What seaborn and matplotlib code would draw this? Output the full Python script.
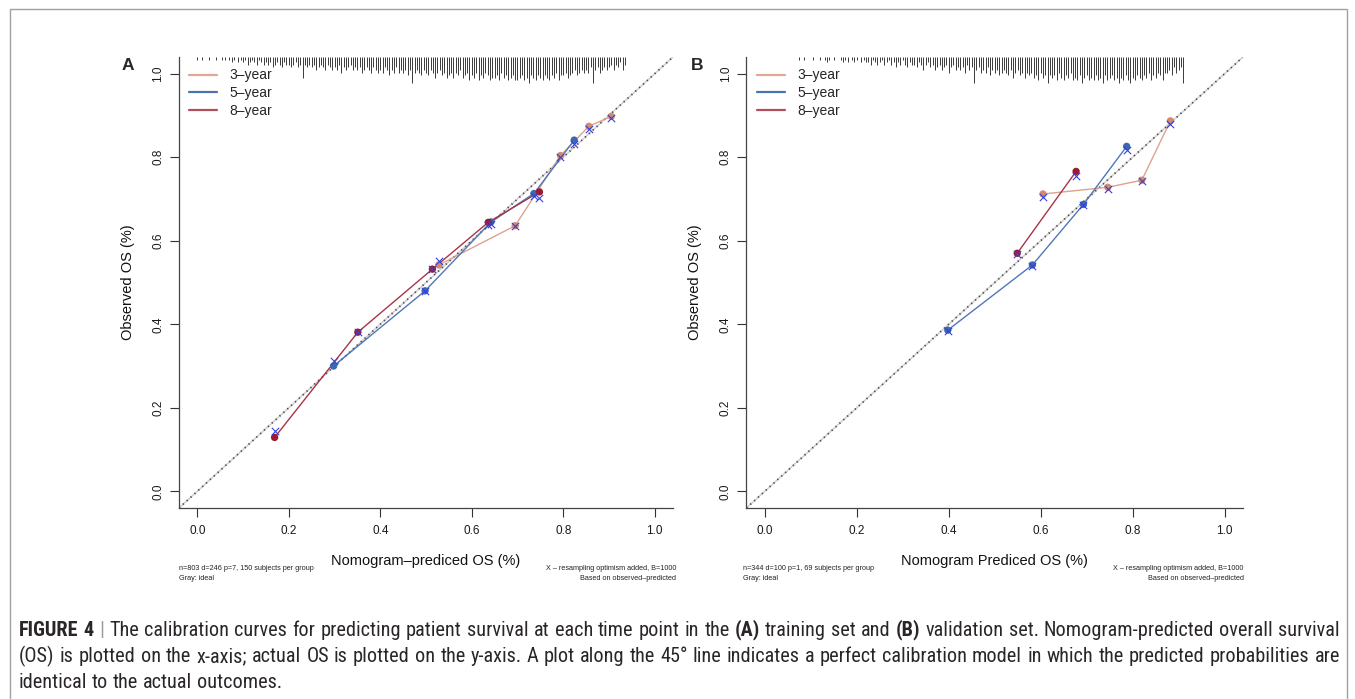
import numpy as np
import pandas as pd
import matplotlib
matplotlib.use("Agg")
import matplotlib.pyplot as plt
import seaborn as sns
from matplotlib.lines import Line2D
from matplotlib.patches import Rectangle
from matplotlib import font_manager
from matplotlib.font_manager import FontProperties

# ---------------- data ----------------
groups = ["3\u2013year", "5\u2013year", "8\u2013year"]

# Panel A (training set)
a3_pred = [0.528, 0.695, 0.794, 0.856, 0.905]
a3_obs = [0.542, 0.636, 0.804, 0.874, 0.898]
a3_cor = [0.551, 0.636, 0.800, 0.868, 0.894]
a5_pred = [0.298, 0.498, 0.642, 0.736, 0.824]
a5_obs = [0.300, 0.480, 0.645, 0.713, 0.841]
a5_cor = [0.311, 0.480, 0.640, 0.708, 0.831]
a8_pred = [0.169, 0.351, 0.514, 0.636, 0.748]
a8_obs = [0.129, 0.381, 0.532, 0.644, 0.717]
a8_cor = [0.145, 0.381, 0.532, 0.637, 0.703]

# Panel B (validation set)
b3_pred = [0.605, 0.746, 0.820, 0.882]
b3_obs = [0.712, 0.728, 0.745, 0.887]
b3_cor = [0.704, 0.724, 0.742, 0.880]
b5_pred = [0.398, 0.582, 0.693, 0.787]
b5_obs = [0.386, 0.542, 0.687, 0.826]
b5_cor = [0.384, 0.540, 0.686, 0.818]
b8_pred = [0.549, 0.677]
b8_obs = [0.570, 0.766]
b8_cor = [0.568, 0.755]

# spike histogram of predicted values along the top (relative heights 0-10)
rugA_start, rugA_step = 0.0, 0.005
rugA_h = [1, 0, 1, 0, 0, 1, 0, 0, 1, 0,
          0, 1, 1, 0, 1, 2, 1, 0, 2, 1,
          2, 1, 3, 2, 1, 2, 3, 1, 2, 3,
          2, 3, 2, 4, 3, 2, 3, 4, 2, 3,
          3, 4, 3, 2, 4, 3, 8, 3, 4, 3,
          4, 3, 5, 4, 3, 4, 5, 3, 4, 5,
          4, 5, 3, 6, 4, 5, 4, 3, 5, 4,
          5, 4, 6, 5, 4, 5, 6, 4, 5, 6,
          5, 6, 4, 5, 7, 5, 6, 4, 6, 5,
          6, 5, 7, 5, 10, 6, 5, 6, 7, 5,
          6, 7, 5, 6, 8, 6, 5, 7, 6, 8,
          7, 6, 8, 6, 7, 5, 8, 7, 6, 9,
          7, 8, 6, 9, 7, 8, 6, 7, 9, 8,
          8, 7, 9, 6, 8, 7, 9, 8, 7, 9,
          9, 8, 7, 9, 8, 10, 7, 8, 9, 7,
          8, 9, 7, 8, 9, 7, 8, 6, 9, 7,
          7, 6, 8, 7, 6, 5, 7, 6, 5, 6,
          5, 6, 4, 10, 5, 4, 6, 5, 4, 5,
          4, 3, 5, 3, 4, 2, 5, 3]
rugB_start, rugB_step = 0.075, 0.005
rugB_h = [1, 0, 1, 0, 0, 0, 1, 0, 0, 1,
          0, 1, 2, 1, 0, 1, 0, 0, 1, 2,
          1, 2, 0, 1, 2, 1, 0, 2, 1, 2,
          2, 3, 1, 2, 3, 2, 1, 3, 2, 1,
          3, 2, 4, 2, 3, 1, 3, 4, 2, 3,
          3, 4, 2, 3, 5, 3, 2, 4, 3, 5,
          4, 3, 5, 4, 3, 6, 4, 3, 5, 4,
          5, 4, 6, 3, 5, 4, 10, 5, 4, 6,
          5, 6, 4, 7, 5, 6, 5, 7, 6, 5,
          6, 7, 5, 8, 6, 5, 7, 6, 8, 6,
          7, 6, 8, 7, 9, 6, 8, 7, 10, 7,
          8, 7, 9, 6, 8, 9, 7, 8, 6, 9,
          8, 9, 7, 10, 8, 7, 9, 8, 9, 7,
          9, 8, 10, 7, 9, 8, 7, 9, 8, 10,
          8, 9, 7, 9, 10, 8, 9, 7, 8, 9,
          7, 8, 6, 9, 7, 8, 6, 7, 9, 6,
          6, 5, 7, 4, 6, 5, 4, 10]

tick_vals = [0.0, 0.2, 0.4, 0.6, 0.8, 1.0]
tick_labels = ["0.0", "0.2", "0.4", "0.6", "0.8", "1.0"]

noteA_left = ["n=803 d=246 p=7, 150 subjects per group", "Gray: ideal"]
noteB_left = ["n=344 d=100 p=1, 69 subjects per group", "Gray: ideal"]
note_right = ["X \u2013 resampling optimism added, B=1000", "Based on observed\u2013predicted"]
xlabelA = "Nomogram\u2013prediced OS (%)"
xlabelB = "Nomogram Prediced OS (%)"
ylabel = "Observed OS (%)"

caption1 = [("FIGURE", "bold"), ("4", "bold"), ("|", "bar"), ("The", "n"), ("calibration", "n"),
            ("curves", "n"), ("for", "n"), ("predicting", "n"), ("patient", "n"), ("survival", "n"),
            ("at", "n"), ("each", "n"), ("time", "n"), ("point", "n"), ("in", "n"), ("the", "n"),
            ("(A)", "bold"), ("training", "n"), ("set", "n"), ("and", "n"), ("(B)", "bold"),
            ("validation", "n"), ("set.", "n"), ("Nomogram-predicted", "n"), ("overall", "n"),
            ("survival", "n")]
caption2 = "(OS) is plotted on the x-axis; actual OS is plotted on the y-axis. A plot along the 45\u00b0 line indicates a perfect calibration model in which the predicted probabilities are"
caption3 = "identical to the actual outcomes."

# ---------------- styling ----------------
sns.set_style("ticks")
plt.rcParams["font.family"] = ["Liberation Sans", "DejaVu Sans"]

line_pal = {groups[0]: "#DDA290", groups[1]: "#4F78B8", groups[2]: "#A83446"}
pt_pal = {groups[0]: "#D68A6C", groups[1]: "#3D68B0", groups[2]: "#9E1A2E"}
leg_pal = {groups[0]: "#E2A696", groups[1]: "#4A72B0", groups[2]: "#B0505C"}
x_col = "#3342DA"

W, H = 1355, 699
fig = plt.figure(figsize=(W / 100, H / 100), dpi=100)
fig.patch.set_facecolor("white")


def rect(l, r, t, b):
    return [l / W, 1 - b / H, (r - l) / W, (b - t) / H]


def fx(x):
    return x / W


def fy(y):
    return 1 - y / H


def make_df(preds, obss, cors):
    rows = []
    for g, p, o, c in zip(groups, preds, obss, cors):
        for i in range(len(p)):
            rows.append({"group": g, "pred": p[i], "obs": o[i], "cor": c[i]})
    return pd.DataFrame(rows)


dfA = make_df([a3_pred, a5_pred, a8_pred], [a3_obs, a5_obs, a8_obs], [a3_cor, a5_cor, a8_cor])
dfB = make_df([b3_pred, b5_pred, b8_pred], [b3_obs, b5_obs, b8_obs], [b3_cor, b5_cor, b8_cor])


def panel(ax, df, rug_start, rug_step, rug_h, xlabel):
    lo, hi = -0.04, 1.04
    ax.set_xlim(lo, hi)
    ax.set_ylim(lo, hi)
    ax.plot([lo, hi], [lo, hi], color="#d0d0d0", lw=1.1, zorder=1)
    ax.plot([lo, hi], [lo, hi], color="#4a4a4a", lw=1.3, linestyle=(0, (0.7, 2.2)), zorder=1.5)
    sns.lineplot(data=df, x="pred", y="obs", hue="group", palette=line_pal, sort=False,
                 estimator=None, legend=False, lw=1.0, ax=ax, zorder=2)
    sns.scatterplot(data=df, x="pred", y="obs", hue="group", palette=pt_pal, s=28,
                    edgecolor="none", legend=False, ax=ax, zorder=3)
    sns.scatterplot(data=df, x="pred", y="cor", color=x_col, marker="x", s=28,
                    linewidth=0.8, legend=False, ax=ax, zorder=4)
    rx = rug_start + rug_step * np.arange(len(rug_h))
    rh = np.array(rug_h) / 10.0 * 0.062
    ax.vlines(rx, hi - rh, hi, color="#3a3a3a", lw=0.7, zorder=2, clip_on=False)

    ax.set_xticks(tick_vals)
    ax.set_xticklabels(tick_labels)
    ax.set_yticks(tick_vals)
    ax.set_yticklabels(tick_labels, rotation=90, va="center")
    ax.tick_params(axis="both", which="major", direction="out", length=6.5, width=0.8,
                   color="#333333", labelsize=8.5, labelcolor="#1a1a1a",
                   bottom=True, left=True, top=False, right=False)
    ax.tick_params(axis="x", pad=6)
    ax.tick_params(axis="y", pad=4)
    for s in ["top", "right"]:
        ax.spines[s].set_visible(False)
    for s in ["left", "bottom"]:
        ax.spines[s].set_color("#444444")
        ax.spines[s].set_linewidth(0.9)
    ax.set_xlabel(xlabel, fontsize=10.5, color="#111111")
    ax.set_ylabel(ylabel, fontsize=10.5, color="#111111")
    handles = [Line2D([0], [0], color=leg_pal[g], lw=1.6) for g in groups]
    ax.legend(handles, groups, loc="upper left", bbox_to_anchor=(0.01, 0.987), frameon=False,
              fontsize=10, handlelength=2.0, handletextpad=0.9, labelspacing=0.28,
              borderaxespad=0.0)


axA = fig.add_axes(rect(179, 673, 57, 508))
axB = fig.add_axes(rect(746.4, 1243, 57, 508))
panel(axA, dfA, rugA_start, rugA_step, rugA_h, xlabelA)
panel(axB, dfB, rugB_start, rugB_step, rugB_h, xlabelB)

for ax, l, r in [(axA, 179, 673), (axB, 746.4, 1243)]:
    w = r - l
    ax.xaxis.set_label_coords(0.5, (508 - 561) / 451)
    ax.xaxis.label.set_va("center")
    ax.yaxis.set_label_coords(-51 / w, 0.5)
    ax.yaxis.label.set_va("center")

fig.text(fx(128), fy(66), "A", fontsize=12.5, fontweight="bold", ha="center", va="center")
fig.text(fx(697), fy(66), "B", fontsize=12.5, fontweight="bold", ha="center", va="center")

for lx, rx_, left in [(179, 676, noteA_left), (743, 1243.5, noteB_left)]:
    for k in range(2):
        fig.text(fx(lx), fy(569 + 9 * k), left[k], fontsize=5.2, ha="left", va="center", color="#222222")
        fig.text(fx(rx_), fy(569 + 9 * k), note_right[k], fontsize=5.2, ha="right", va="center", color="#222222")

fig.patches.append(Rectangle((fx(9.5), -0.05), fx(1346.5) - fx(9.5), fy(8.5) + 0.05,
                             transform=fig.transFigure, fill=False, edgecolor="#a0a0a0", lw=1.0))

# ---------------- caption (justified, condensed face if one is installed) ----------------
cand_reg, cand_bold = None, None
prefs = ["Liberation Sans Narrow", "Roboto Condensed", "Open Sans Condensed", "Noto Sans",
         "DejaVu Sans"]
fl = font_manager.fontManager.ttflist
for name in prefs:
    regs = [f for f in fl if f.name == name and f.stretch in ("condensed", "semi-condensed", "extra-condensed")
            or (f.name == name and ("Narrow" in name or "Condensed" in name))]
    if regs:
        r_ = [f for f in regs if f.weight in (400, "normal", "regular") and f.style == "normal"]
        b_ = [f for f in regs if f.weight in (700, "bold") and f.style == "normal"]
        if r_ and b_:
            cand_reg, cand_bold = r_[0].fname, b_[0].fname
            break
if cand_reg:
    fp_reg = FontProperties(fname=cand_reg)
    fp_bold = FontProperties(fname=cand_bold)
    size_cap = 14.6
else:
    fp_reg = FontProperties(family="Liberation Sans")
    fp_bold = FontProperties(family="Liberation Sans", weight="bold")
    size_cap = 13.5

renderer = fig.canvas.get_renderer()
cap_color = "#2a2627"


def fp_for(kind, size):
    p = (fp_bold if kind == "bold" else fp_reg).copy()
    p.set_size(size)
    return p


def word_width(txt, size, kind):
    t = fig.text(0, 0, txt, fontproperties=fp_for(kind, size))
    w = t.get_window_extent(renderer).width
    t.remove()
    return w


x0, x1 = 19, 1340
f0 = 13.0
sp0 = word_width("a a", f0, "n") - word_width("aa", f0, "n")
nat = sum(word_width(w, f0, k) for w, k in caption1) + sp0 * (len(caption1) - 1)
fsize = min(size_cap, f0 * (x1 - x0) / nat)


def draw_line(words, y, justify=True):
    widths = [word_width(w, fsize, k) for w, k in words]
    if justify and len(words) > 1:
        gap = ((x1 - x0) - sum(widths)) / (len(words) - 1)
    else:
        gap = word_width("a a", fsize, "n") - word_width("aa", fsize, "n")
    x = x0
    for (w, k), wd in zip(words, widths):
        col = "#9a9a9a" if k == "bar" else cap_color
        fig.text(fx(x), fy(y), w, fontproperties=fp_for(k, fsize), color=col,
                 ha="left", va="center")
        x += wd + gap


draw_line(caption1, 630)
draw_line([(w, "n") for w in caption2.split(" ")], 656.5)
draw_line([(w, "n") for w in caption3.split(" ")], 683, justify=False)

fig.savefig("out.png", dpi=100, facecolor="white")
